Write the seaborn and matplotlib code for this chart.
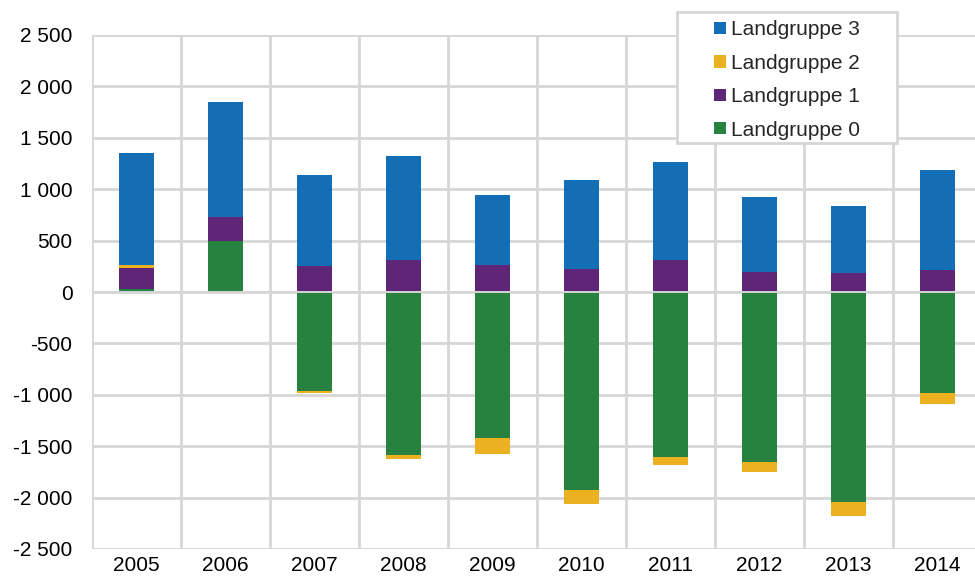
import numpy as np
import pandas as pd
import seaborn as sns
import matplotlib.pyplot as plt
from matplotlib.patches import Patch, Rectangle
from matplotlib.ticker import FuncFormatter, MultipleLocator

years = ["2005", "2006", "2007", "2008", "2009", "2010", "2011", "2012", "2013", "2014"]
group0 = [32, 500, -965, -1585, -1420, -1926, -1605, -1657, -2043, -983]
group1 = [204, 233, 250, 311, 262, 224, 307, 190, 181, 214]
group2 = [27, -10, -15, -38, -155, -135, -75, -97, -133, -110]
group3 = [1092, 1117, 888, 1012, 682, 866, 958, 734, 656, 973]

labels = ["Landgruppe 3", "Landgruppe 2", "Landgruppe 1", "Landgruppe 0"]
colors = {"Landgruppe 3": "#136EB6", "Landgruppe 2": "#EBB121",
          "Landgruppe 1": "#5F2577", "Landgruppe 0": "#278240"}

sns.set_theme(style="white")
plt.rcParams["font.family"] = ["Liberation Sans", "DejaVu Sans"]

g0 = np.array(group0, dtype=float)
g1 = np.array(group1, dtype=float)
g2 = np.array(group2, dtype=float)
g3 = np.array(group3, dtype=float)

# cumulative tops for positive and negative stacks (drawn back to front)
pos0 = np.clip(g0, 0, None)
pos1 = pos0 + g1
pos2 = pos1 + np.clip(g2, 0, None)
pos3 = pos2 + g3
neg0 = np.clip(g0, None, 0)
neg2 = neg0 + np.clip(g2, None, 0)

layers = [
    ("Landgruppe 3", pos3),
    ("Landgruppe 2", pos2),
    ("Landgruppe 1", pos1),
    ("Landgruppe 0", pos0),
    ("Landgruppe 2", neg2),
    ("Landgruppe 0", neg0),
]

fig = plt.figure(figsize=(9.75, 5.76), dpi=100)
ax = fig.add_axes([92 / 975, 27 / 576, 890 / 975, 514 / 576])

for name, vals in layers:
    df = pd.DataFrame({"year": years, "value": vals})
    sns.barplot(data=df, x="year", y="value", color=colors[name], width=0.4,
                linewidth=0, saturation=1, ax=ax, zorder=2)

grid_c = "#D6D6D6"
ax.set_xlim(-0.5, len(years) - 0.5)
ax.set_ylim(-2500, 2500)
ax.yaxis.set_major_locator(MultipleLocator(500))
ax.yaxis.set_major_formatter(FuncFormatter(lambda v, p: f"{int(v):,}".replace(",", " ")))
ax.set_xticks(np.arange(-0.5, len(years), 1.0), minor=True)
ax.grid(axis="y", which="major", color=grid_c, linewidth=2, zorder=0)
ax.grid(axis="x", which="minor", color=grid_c, linewidth=2, zorder=0)
ax.axhline(0, color=grid_c, linewidth=1.4, zorder=3)
ax.set_axisbelow(True)
for s in ax.spines.values():
    s.set_visible(False)
ax.set_xlabel("")
ax.set_ylabel("")
ax.tick_params(axis="both", which="both", length=0, labelsize=15, colors="black")
ax.tick_params(axis="y", pad=14)
ax.tick_params(axis="x", pad=5)

# legend box
fig.patches.append(Rectangle((677 / 975, 1 - 143 / 576), 220 / 975, 131 / 576,
                             transform=fig.transFigure, facecolor="white",
                             edgecolor=grid_c, linewidth=2, zorder=5))
handles = [Patch(facecolor=colors[l], edgecolor="none") for l in labels]
leg = fig.legend(handles, labels, loc="center", bbox_to_anchor=(787 / 975, 1 - 80 / 576),
                 frameon=False, fontsize=15, handlelength=0.55, handleheight=0.55,
                 handletextpad=0.25, labelspacing=0.69, borderpad=0)
leg.set_zorder(6)

fig.savefig("out.png", dpi=100)
